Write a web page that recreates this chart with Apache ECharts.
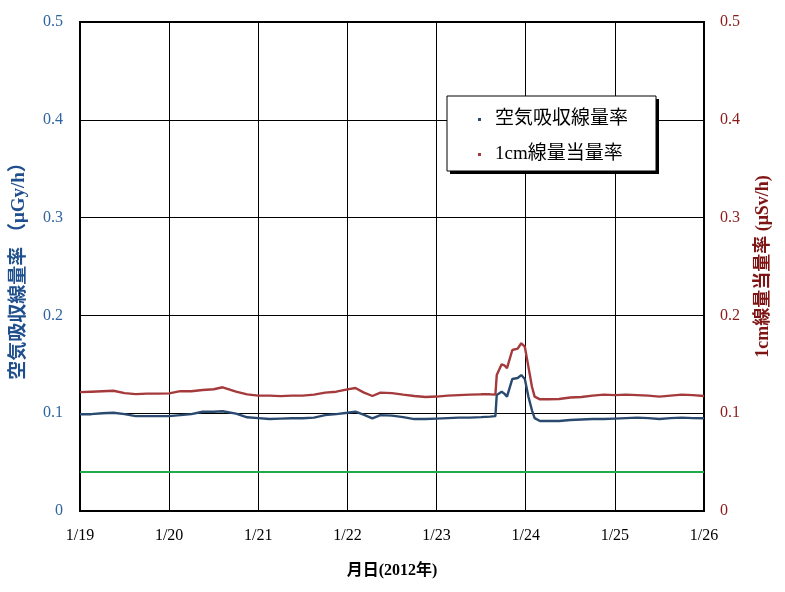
<!DOCTYPE html>
<html><head><meta charset="utf-8">
<script src="https://cdn.jsdelivr.net/npm/echarts@6/dist/echarts.min.js"></script>
<style>html,body{margin:0;padding:0;background:#fff}#c{width:785px;height:592px}</style>
</head><body><div id="c"></div>
<script>
// time in days of January 2012
const days = [19.0,19.125,19.25,19.375,19.5,19.625,19.75,19.875,20.0,20.125,20.25,20.375,20.5,20.6,20.75,20.875,
  21.0,21.125,21.25,21.375,21.5,21.625,21.75,21.875,22.0,22.09,22.18,22.28,22.37,22.5,22.625,22.75,22.875,
  23.0,23.125,23.25,23.375,23.5,23.6,23.66,23.675,23.73,23.76,23.79,23.85,23.91,23.95,23.99,24.03,24.07,24.10,24.16,
  24.25,24.375,24.5,24.625,24.75,24.875,25.0,25.125,25.25,25.375,25.5,25.625,25.75,25.875,26.0];
const airDose = [0.099,0.099,0.100,0.1005,0.099,0.097,0.097,0.097,0.097,0.098,0.099,0.1015,0.1015,0.102,0.0995,0.0958,
  0.095,0.094,0.0945,0.0948,0.0948,0.0955,0.098,0.099,0.1005,0.1016,0.0985,0.0948,0.098,0.0975,0.096,0.094,0.094,
  0.0945,0.095,0.0955,0.0955,0.096,0.0965,0.097,0.1186,0.122,0.120,0.117,0.135,0.136,0.139,0.135,0.117,0.103,0.095,0.092,
  0.092,0.092,0.093,0.0935,0.094,0.094,0.0945,0.095,0.0955,0.095,0.094,0.095,0.0955,0.095,0.0948];
const doseEq = [0.1215,0.122,0.1225,0.123,0.1205,0.1195,0.120,0.120,0.1203,0.1225,0.1225,0.1237,0.1245,0.1265,0.122,0.1193,
  0.118,0.118,0.1175,0.118,0.118,0.119,0.121,0.122,0.1244,0.1258,0.1213,0.1176,0.121,0.1205,0.119,0.1176,0.1166,
  0.117,0.118,0.1185,0.119,0.1193,0.1193,0.119,0.139,0.150,0.149,0.146,0.1646,0.166,0.1715,0.168,0.1476,0.127,0.117,0.1142,
  0.1142,0.1145,0.116,0.1165,0.118,0.119,0.1185,0.119,0.1185,0.118,0.117,0.118,0.119,0.1185,0.1176];
const refLevel = 0.04;
const seriesNames = ['空気吸収線量率','1cm線量当量率'];
const xTickMin = 19, xTickMax = 26;

const serif = '"Liberation Serif","Noto Sans CJK JP",serif';
const chart = echarts.init(document.getElementById('c'));
chart.setOption({
  animation:false,
  backgroundColor:'#fff',
  grid:{left:80,right:81,top:22,bottom:81,show:true,borderColor:'#000',borderWidth:2,backgroundColor:'transparent'},
  graphic:[
    {type:'rect',z:4,shape:{x:450,y:99,width:209,height:75},style:{fill:'#000',stroke:null}},
    {type:'rect',z:4,shape:{x:447,y:96,width:209,height:75},style:{fill:'#fff',stroke:'#000',lineWidth:1}}
  ],
  legend:{
    data:seriesNames, orient:'vertical', left:478, top:110, z:5,
    padding:0, itemGap:16, itemWidth:3, itemHeight:3, icon:'rect',
    textStyle:{fontFamily:serif, fontSize:19, color:'#000', padding:[0,0,0,9]}
  },
  xAxis:{type:'value',min:xTickMin,max:xTickMax,interval:1,
    axisLine:{show:true,lineStyle:{color:'#000',width:2}},
    axisTick:{show:true,inside:true,length:4,lineStyle:{color:'#000'}},
    splitLine:{show:true,lineStyle:{color:'#000',width:1}},
    axisLabel:{formatter:v=>'1/'+v, fontFamily:serif, fontSize:16, color:'#000', margin:17},
    name:'月日(2012年)', nameLocation:'middle', nameGap:52,
    nameTextStyle:{fontFamily:serif, fontSize:16, fontWeight:'bold', color:'#000'}
  },
  yAxis:[
    {type:'value',min:0,max:0.5,interval:0.1,position:'left',
     axisLine:{show:true,lineStyle:{color:'#000',width:2}},
     axisTick:{show:true,inside:true,length:5,lineStyle:{color:'#000'}},
     splitLine:{show:true,lineStyle:{color:'#000',width:1}},
     axisLabel:{fontFamily:serif,fontSize:16,color:'#2f64a0',margin:17},
     name:'空気吸収線量率 （μGy/h）', nameLocation:'middle', nameGap:51, nameRotate:90,
     nameTextStyle:{fontFamily:serif,fontSize:19,fontWeight:'bold',color:'#1f4f8c'}},
    {type:'value',min:0,max:0.5,interval:0.1,position:'right',
     axisLine:{show:true,lineStyle:{color:'#000',width:2}},
     axisTick:{show:true,inside:true,length:5,lineStyle:{color:'#000'}},
     splitLine:{show:false},
     axisLabel:{fontFamily:serif,fontSize:16,color:'#8b1a1a',margin:16},
     name:'1cm線量当量率 (μSv/h)', nameLocation:'middle', nameGap:50, nameRotate:90,
     nameTextStyle:{fontFamily:serif,fontSize:18,fontWeight:'bold',color:'#7f1414'}}
  ],
  series:[
    {name:seriesNames[0],type:'line',yAxisIndex:0,showSymbol:false,symbol:'rect',symbolSize:3,
     itemStyle:{color:'#2b4a6f'},lineStyle:{color:'#2b4a6f',width:2.4},
     data:days.map((d,i)=>[d,airDose[i]])},
    {name:seriesNames[1],type:'line',yAxisIndex:1,showSymbol:false,symbol:'rect',symbolSize:3,
     itemStyle:{color:'#a53a3c'},lineStyle:{color:'#a53a3c',width:2.4},
     data:days.map((d,i)=>[d,doseEq[i]])},
    {name:'ref',type:'line',yAxisIndex:0,showSymbol:false,
     lineStyle:{color:'#1faa50',width:2},itemStyle:{color:'#1faa50'},
     data:[[xTickMin,refLevel],[xTickMax,refLevel]]}
  ]
});
</script></body></html>
